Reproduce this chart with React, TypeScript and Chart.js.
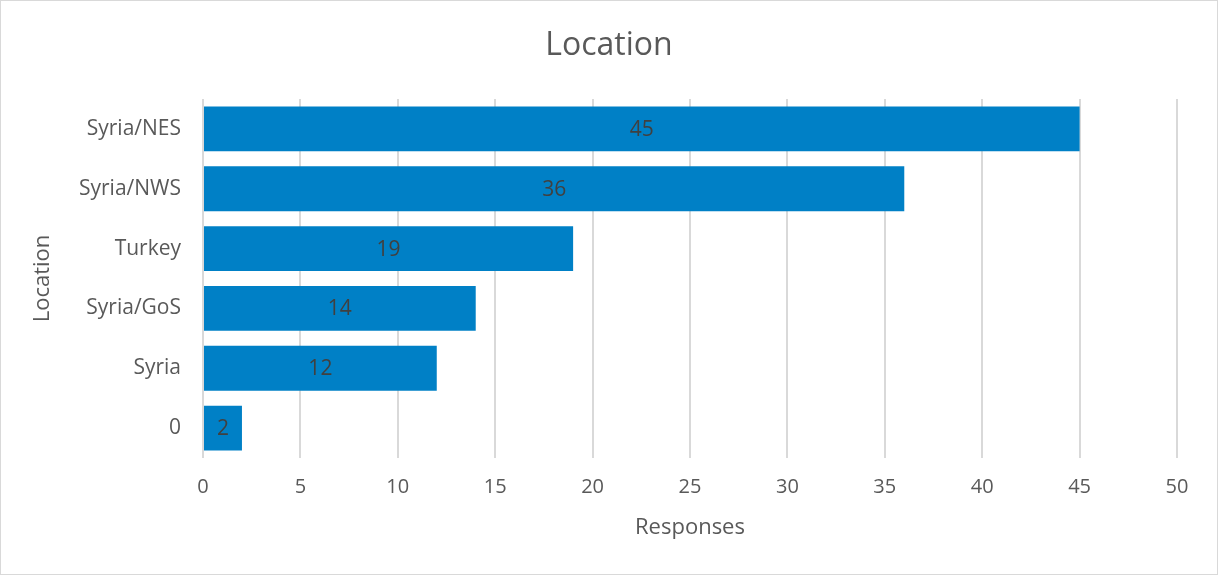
import React, { useEffect, useRef } from "react";
import { Chart, registerables } from "chart.js";

Chart.register(...registerables);

const categories = ["Syria/NES", "Syria/NWS", "Turkey", "Syria/GoS", "Syria", "0"];
const responses = [45, 36, 19, 14, 12, 2];
const xTicks = [0, 5, 10, 15, 20, 25, 30, 35, 40, 45, 50];
const chartTitle = "Location";

const FONT = "'Open Sans', 'Noto Sans', sans-serif";

const valueLabels = {
  id: "valueLabels",
  afterDatasetsDraw(chart: any) {
    const { ctx } = chart;
    const meta = chart.getDatasetMeta(0);
    ctx.save();
    ctx.font = `21px ${FONT}`;
    ctx.fillStyle = "#404040";
    ctx.textAlign = "center";
    ctx.textBaseline = "middle";
    meta.data.forEach((bar: any, i: number) => {
      const x = (bar.x + bar.base) / 2;
      ctx.fillText(String(responses[i]), x, bar.y + 1);
    });
    ctx.restore();
  },
};

const centeredTitle = {
  id: "centeredTitle",
  afterDraw(chart: any) {
    const { ctx } = chart;
    ctx.save();
    ctx.font = `32px ${FONT}`;
    ctx.fillStyle = "#595959";
    ctx.textAlign = "center";
    ctx.textBaseline = "middle";
    ctx.fillText(chartTitle, chart.width / 2, 45);
    ctx.restore();
  },
};

export default function App() {
  const ref = useRef<HTMLCanvasElement | null>(null);
  useEffect(() => {
    if (!ref.current) return;
    const chart = new Chart(ref.current, {
      type: "bar",
      data: {
        labels: categories,
        datasets: [
          {
            data: responses,
            backgroundColor: "#0080C6",
            borderWidth: 0,
            barPercentage: 0.75,
            categoryPercentage: 1,
          },
        ],
      },
      options: {
        indexAxis: "y",
        animation: false,
        responsive: false,
        maintainAspectRatio: false,
        layout: { padding: { left: 0, right: 40, top: 98, bottom: 0 } },
        plugins: {
          legend: { display: false },
          tooltip: { enabled: false },
          title: { display: false },
        },
        scales: {
          x: {
            min: 0,
            max: 50,
            afterBuildTicks(scale: any) {
              scale.ticks = xTicks.map((v) => ({ value: v }));
            },
            afterFit(scale: any) {
              scale.height = 116;
            },
            grid: { color: "#d9d9d9", lineWidth: 2, drawTicks: false },
            border: { display: false },
            ticks: {
              color: "#595959",
              font: { family: FONT, size: 20 },
              padding: 17,
              maxRotation: 0,
            },
            title: {
              display: true,
              text: "Responses",
              color: "#595959",
              font: { family: FONT, size: 22 },
              padding: { top: 0, bottom: 33 },
            },
          },
          y: {
            afterFit(scale: any) {
              scale.width = 202;
            },
            grid: { display: false, drawTicks: false },
            border: { display: false },
            ticks: {
              color: "#595959",
              font: { family: FONT, size: 21 },
              padding: 22,
            },
            title: {
              display: true,
              text: "Location",
              color: "#595959",
              font: { family: FONT, size: 22 },
              padding: { top: 29, bottom: 0 },
            },
          },
        },
      },
      plugins: [valueLabels, centeredTitle],
    });
    return () => chart.destroy();
  }, []);

  return (
    <div
      style={{
        position: "fixed",
        left: 0,
        top: 0,
        width: 1218,
        height: 575,
        boxSizing: "border-box",
        border: "1px solid #d9d9d9",
        background: "#fff",
      }}
    >
      <canvas
        ref={ref}
        width={1216}
        height={573}
        style={{ display: "block", width: 1216, height: 573 }}
      />
    </div>
  );
}
